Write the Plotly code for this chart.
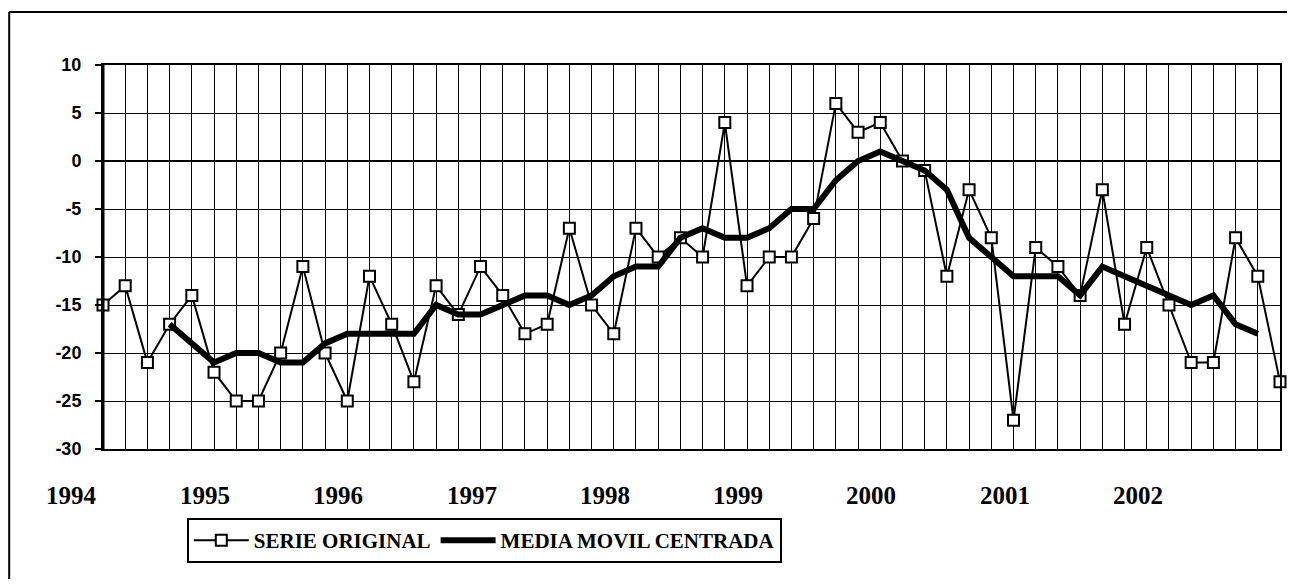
import plotly.graph_objects as go

# Bimonthly observations 1994-2002 (index 0..53)
serie_original = [-15, -13, -21, -17, -14, -22, -25, -25, -20, -11, -20, -25, -12, -17,
                  -23, -13, -16, -11, -14, -18, -17, -7, -15, -18, -7, -10, -8, -10, 4,
                  -13, -10, -10, -6, 6, 3, 4, 0, -1, -12, -3, -8, -27, -9, -11, -14,
                  -3, -17, -9, -15, -21, -21, -8, -12, -23]
# Centred moving average, defined from index 3 to index 52
media_movil_start = 3
media_movil = [-17, -19, -21, -20, -20, -21, -21, -19, -18, -18, -18, -18,
               -15, -16, -16, -15, -14, -14, -15, -14, -12, -11, -11, -8, -7, -8,
               -8, -7, -5, -5, -2, 0, 1, 0, -1, -3, -8, -10, -12, -12, -12, -14,
               -11, -12, -13, -14, -15, -14, -17, -18]
years = ["1994", "1995", "1996", "1997", "1998", "1999", "2000", "2001", "2002"]
periods_per_year = 6
y_ticks = [10, 5, 0, -5, -10, -15, -20, -25, -30]

x_orig = list(range(len(serie_original)))
x_ma = list(range(media_movil_start, media_movil_start + len(media_movil)))
x_max = len(serie_original) - 1

fig = go.Figure()
fig.add_trace(go.Scatter(
    x=x_orig, y=serie_original, mode="lines+markers", name="<b>SERIE ORIGINAL</b>",
    line=dict(color="black", width=2),
    marker=dict(symbol="square", size=11, color="white", line=dict(color="black", width=2)),
    cliponaxis=False,
))
fig.add_trace(go.Scatter(
    x=x_ma, y=media_movil, mode="lines", name="<b>MEDIA MOVIL CENTRADA</b>",
    line=dict(color="black", width=6),
))

annotations = []
for k, yr in enumerate(years):
    annotations.append(dict(
        x=(k * periods_per_year - 1.4) / x_max, y=-0.122, xref="paper", yref="paper",
        text="<b>" + yr + "</b>", showarrow=False, xanchor="center", yanchor="middle",
        font=dict(family="Liberation Serif", size=25, color="black"),
    ))

shapes = [
    # outer chart frame (left and top edges; the rest lies outside the view)
    dict(type="line", xref="paper", yref="paper", x0=-0.0797, x1=-0.0797, y0=-0.4, y1=1.138,
         line=dict(color="black", width=2), layer="below"),
    dict(type="line", xref="paper", yref="paper", x0=-0.0797, x1=1.02, y0=1.138, y1=1.138,
         line=dict(color="black", width=2), layer="below"),
    # thick left axis
    dict(type="line", xref="paper", yref="paper", x0=0, x1=0, y0=0, y1=1,
         line=dict(color="black", width=3)),
]

fig.update_layout(
    width=1279, height=571,
    margin=dict(l=95, r=5, t=57, b=130),
    paper_bgcolor="white", plot_bgcolor="white",
    showlegend=True,
    legend=dict(
        orientation="h", x=0.0712, y=-0.18, xanchor="left", yanchor="top",
        bordercolor="black", borderwidth=2, bgcolor="white",
        font=dict(family="Liberation Serif", size=21, color="black"),
        itemwidth=55, tracegroupgap=0,
    ),
    annotations=annotations,
    shapes=shapes,
)
fig.update_xaxes(
    range=[0, x_max], dtick=1, tick0=0,
    showgrid=True, gridcolor="black", gridwidth=1,
    showticklabels=False, ticks="",
    showline=True, linecolor="black", linewidth=2, mirror=True,
    zeroline=False,
)
fig.update_yaxes(
    range=[-30, 10], tickvals=y_ticks, ticktext=["<b>%d</b>" % v for v in y_ticks],
    showgrid=True, gridcolor="black", gridwidth=1,
    zeroline=True, zerolinecolor="black", zerolinewidth=2,
    ticks="outside", ticklen=6, tickwidth=2, tickcolor="black",
    ticklabelstandoff=10,
    tickfont=dict(family="Liberation Sans", size=18, color="black"),
    showline=True, linecolor="black", linewidth=2, mirror=True,
)

fig.write_html("out.html")
